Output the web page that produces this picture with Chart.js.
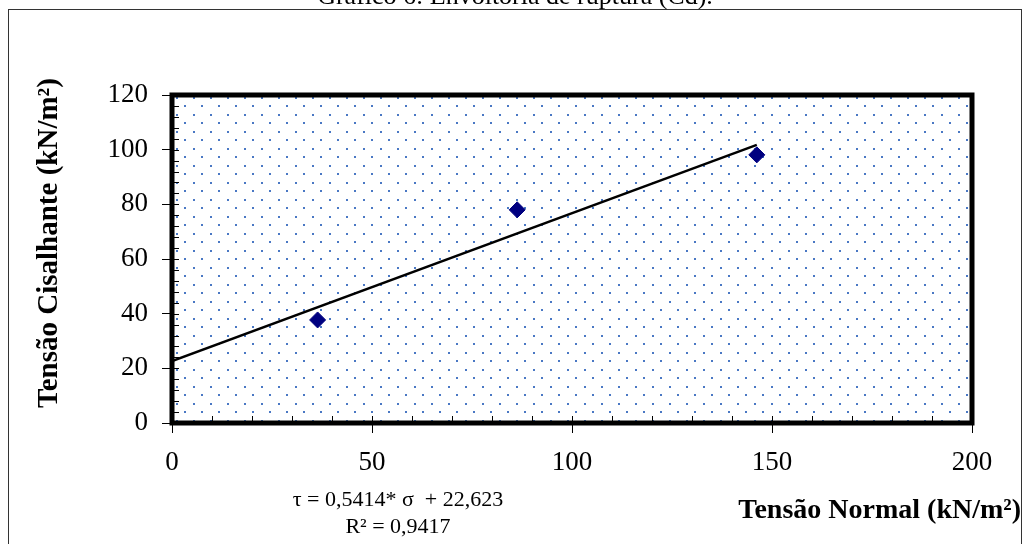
<!DOCTYPE html>
<html>
<head>
<meta charset="utf-8">
<script src="https://cdn.jsdelivr.net/npm/chart.js@4"></script>
<style>
  body { margin: 0; background: #fff; }
  #wrap { width: 1025px; height: 544px; position: relative; }
</style>
</head>
<body>
<div id="wrap"><canvas id="envelope" width="1025" height="544"></canvas></div>
<script>
// Ensaio de cisalhamento direto - amostra Cd
const normalStress = [36.4, 86.3, 146.2];   // σ (kN/m²)
const shearStress = [37.7, 78.0, 98.1];     // τ (kN/m²)
const fitSlope = 0.5414;
const fitIntercept = 22.623;
const fitR2 = 0.9417;
const xTickValues = [0, 50, 100, 150, 200];
const yTickValues = [0, 20, 40, 60, 80, 100, 120];

const SERIF = "'Liberation Serif', 'Times New Roman', serif";

function fmt(n, d) {
    return n.toFixed(d).replace('.', ',');
}

// trendline from σ = 0 up to the largest test point
const xEnd = Math.max(...normalStress);
const trendPoints = [
    { x: 0, y: fitIntercept },
    { x: xEnd, y: fitSlope * xEnd + fitIntercept }
];

function dotPattern(ctx) {
    const tile = document.createElement('canvas');
    tile.width = 17;
    tile.height = 17;
    const t = tile.getContext('2d');
    t.fillStyle = '#4a78c4';
    t.fillRect(0, 0, 2, 2);
    t.fillRect(8, 8, 2, 2);
    return ctx.createPattern(tile, 'repeat');
}

const plotDecor = {
    id: 'plotDecor',
    beforeDatasetsDraw(chart) {
        const { ctx, chartArea: a } = chart;
        ctx.save();
        ctx.fillStyle = '#fff';
        ctx.fillRect(a.left, a.top, a.width, a.height);
        ctx.translate(a.left + 4, a.top + 2);
        ctx.fillStyle = dotPattern(ctx);
        ctx.fillRect(0, 0, a.width - 4, a.height - 2);
        ctx.restore();

        // minor ticks pointing into the plot
        const xs = chart.scales.x, ys = chart.scales.y;
        ctx.save();
        ctx.strokeStyle = '#000';
        ctx.lineWidth = 1;
        ctx.beginPath();
        for (let v = 0; v <= 120; v += 4) {
            const y = Math.round(ys.getPixelForValue(v)) + 0.5;
            ctx.moveTo(a.left, y);
            ctx.lineTo(a.left + 7, y);
        }
        for (let v = 0; v <= 200; v += 10) {
            const x = Math.round(xs.getPixelForValue(v)) + 0.5;
            ctx.moveTo(x, a.bottom);
            ctx.lineTo(x, a.bottom - 7);
        }
        ctx.stroke();
        ctx.restore();
    },
    afterDatasetsDraw(chart) {
        const { ctx, chartArea: a } = chart;
        ctx.save();
        ctx.strokeStyle = '#000';
        ctx.lineWidth = 5;
        ctx.strokeRect(a.left, a.top, a.width, a.height);
        ctx.restore();
    },
    afterDraw(chart) {
        const { ctx } = chart;
        ctx.save();
        ctx.fillStyle = '#000';

        // outer frame
        ctx.strokeStyle = '#333';
        ctx.lineWidth = 1;
        ctx.strokeRect(8.5, 9.5, 1013, 560);

        // chart title
        ctx.font = '26px ' + SERIF;
        ctx.textAlign = 'center';
        ctx.textBaseline = 'alphabetic';
        ctx.fillText('Gráfico 6: Envoltória de ruptura (Cd).', 515, 4);

        // axis titles
        ctx.font = 'bold 28px ' + SERIF;
        ctx.textBaseline = 'middle';
        ctx.textAlign = 'right';
        ctx.fillText('Tensão Normal (kN/m²)', 1021, 511);
        ctx.save();
        ctx.translate(50, 243);
        ctx.rotate(-Math.PI / 2);
        ctx.font = 'bold 29px ' + SERIF;
        ctx.textAlign = 'center';
        ctx.fillText('Tensão Cisalhante (kN/m²)', 0, 0);
        ctx.restore();

        // regression label
        ctx.font = '22px ' + SERIF;
        ctx.textAlign = 'center';
        ctx.fillText('τ = ' + fmt(fitSlope, 4) + '* σ  + ' + fmt(fitIntercept, 3), 398, 500);
        ctx.fillText('R² = ' + fmt(fitR2, 4), 398, 527);
        ctx.restore();
    }
};

const tickFont = { family: SERIF, size: 27 };

new Chart(document.getElementById('envelope'), {
    type: 'scatter',
    data: {
        datasets: [
            {
                label: 'Ensaios',
                data: normalStress.map((s, i) => ({ x: s, y: shearStress[i] })),
                pointStyle: 'rectRot',
                pointRadius: 8,
                backgroundColor: '#000080',
                borderColor: '#000080',
                borderWidth: 1
            },
            {
                label: 'Linear',
                data: trendPoints,
                showLine: true,
                borderColor: '#000',
                borderWidth: 2.5,
                pointRadius: 0
            }
        ]
    },
    options: {
        responsive: false,
        animation: false,
        devicePixelRatio: 1,
        layout: { padding: { left: 0, top: 95, right: 53, bottom: 0 } },
        plugins: { legend: { display: false }, tooltip: { enabled: false } },
        scales: {
            x: {
                type: 'linear',
                min: 0,
                max: 200,
                afterFit(scale) { scale.height = 121; },
                afterBuildTicks(scale) { scale.ticks = xTickValues.map(v => ({ value: v })); },
                border: { display: false },
                grid: { drawOnChartArea: false, drawTicks: true, tickLength: 10, color: '#000' },
                ticks: { font: tickFont, color: '#000', padding: 14, maxRotation: 0 }
            },
            y: {
                type: 'linear',
                min: 0,
                max: 120,
                afterFit(scale) { scale.width = 172; },
                afterBuildTicks(scale) { scale.ticks = yTickValues.map(v => ({ value: v })); },
                border: { display: false },
                grid: { drawOnChartArea: false, drawTicks: true, tickLength: 10, color: '#000' },
                ticks: { font: tickFont, color: '#000', padding: 14 }
            }
        }
    },
    plugins: [plotDecor]
});
</script>
</body>
</html>
